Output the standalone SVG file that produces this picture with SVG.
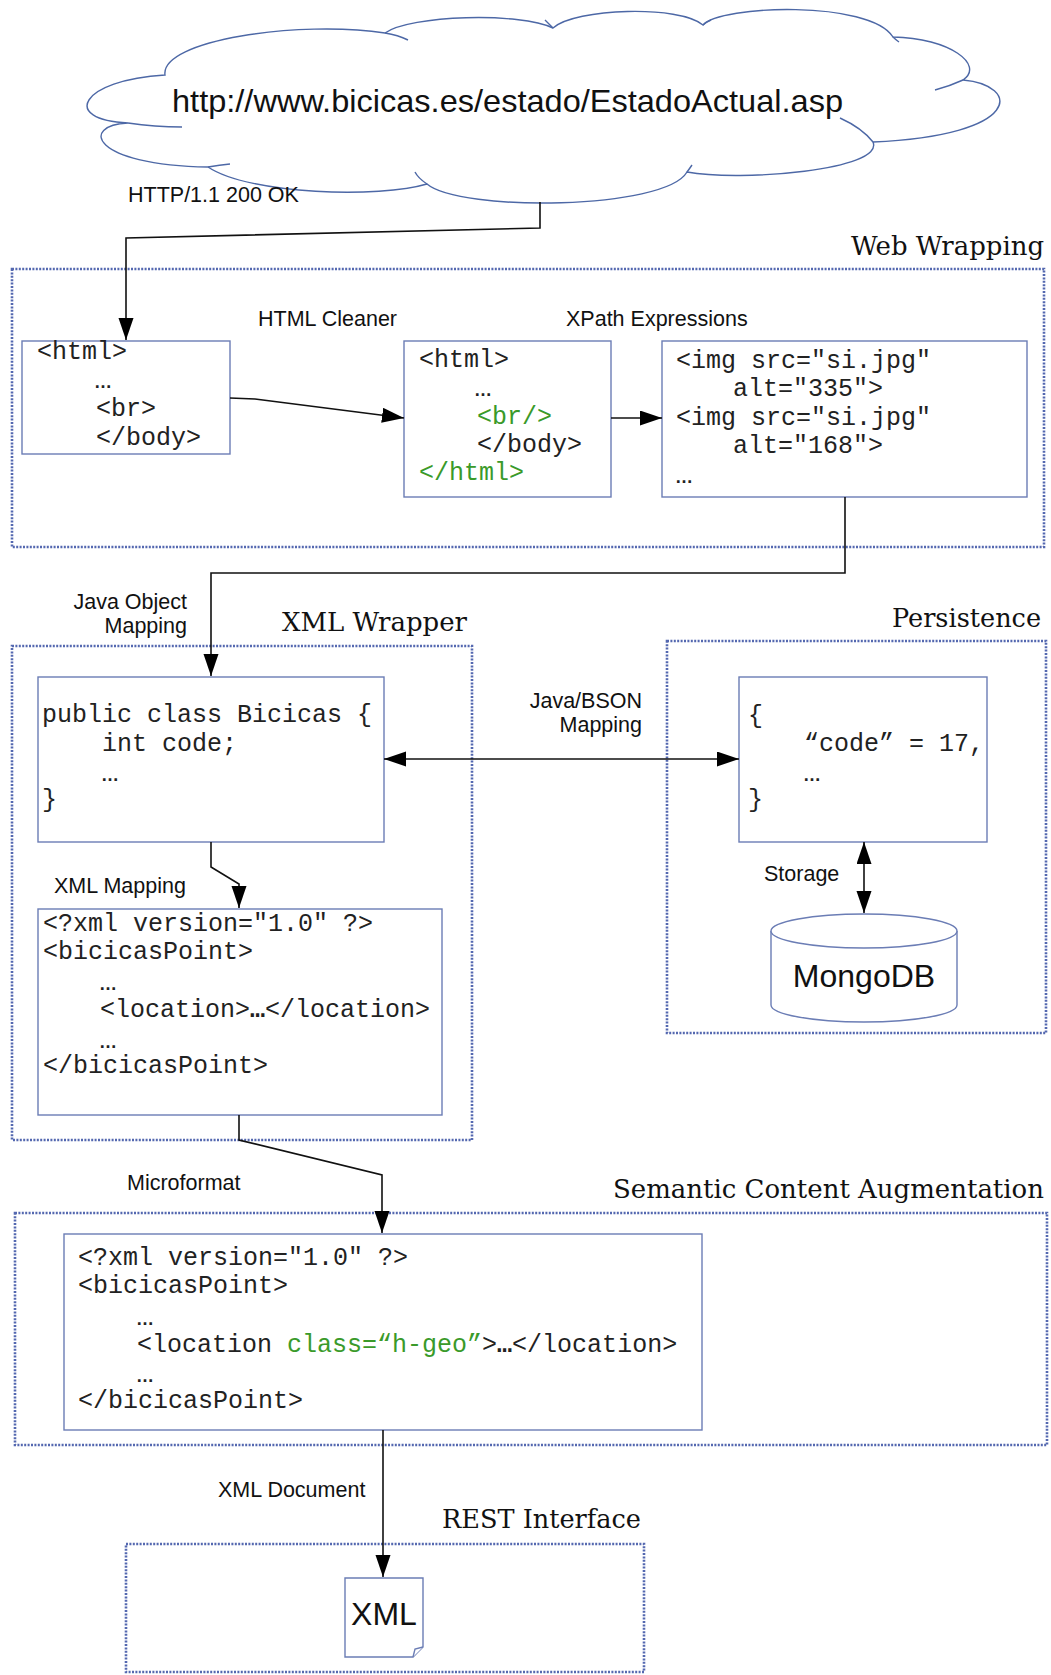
<svg xmlns="http://www.w3.org/2000/svg" width="1051" height="1675" viewBox="0 0 1051 1675">
<style>
.bg{fill:#ffffff}
.sec{fill:none;stroke:#5468b0;stroke-width:2.6;stroke-dasharray:2 1.4}
.box{fill:#ffffff;stroke:#6b7db5;stroke-width:1.4}
.cloud{fill:#ffffff;stroke:#4d68a6;stroke-width:1.4}
.tail{fill:none;stroke:#4d68a6;stroke-width:1.4}
.con{fill:none;stroke:#111111;stroke-width:1.6}
.code{font-family:"Liberation Mono","Courier New",monospace;font-size:25px;fill:#222222}
.dots{font-family:"Liberation Sans",Arial,sans-serif;font-size:18px;font-weight:bold;fill:#222222}
.ell{font-weight:bold}
.lbl{font-family:"Liberation Sans",Arial,sans-serif;font-size:21.5px;fill:#111111}
.big{font-family:"Liberation Sans",Arial,sans-serif;font-size:32px;fill:#111111}
.title{font-family:"DejaVu Serif","Liberation Serif",serif;font-size:26px;fill:#111111;text-anchor:end}
.g{fill:#3a9a2a}
</style>
<defs>
<marker id="ah" markerUnits="userSpaceOnUse" markerWidth="23" markerHeight="16" refX="22" refY="7.5" orient="auto-start-reverse" viewBox="0 0 23 16">
<path d="M0,0 L22,7.5 L0,15 Z" fill="#000000"/>
</marker>
</defs>
<rect class="bg" x="0" y="0" width="1051" height="1675"/>

<g id="cloud">
<path class="cloud" d="M165,75 C160,40 300,20 385,33 C410,15 520,12 553,28 C575,8 680,5 703,25 C720,5 870,0 893,37 C950,38 985,65 963,80 C1020,85 1025,135 873,142 C885,170 740,182 687,172 C665,210 460,212 427,184 C380,198 250,195 208,167 C90,165 80,125 128,123 C60,120 80,80 165,75 Z"/>
<path class="tail" d="M385,33 Q398,35 408,40 M128,123 Q155,127 182,127 M208,167 Q220,165 230,164 M427,184 Q418,178 415,172 M687,172 Q690,168 692,165 M873,142 Q862,128 840,118 M963,80 Q950,86 935,90 M893,37 Q896,40 899,42 M703,25 Q706,22 711,20 M553,28 Q549,24 545,20"/>
<text class="big" x="172" y="112" font-size="33" textLength="671" lengthAdjust="spacingAndGlyphs">http://www.bicicas.es/estado/EstadoActual.asp</text>
</g>

<g id="web-wrapping">
<rect class="sec" x="12" y="269" width="1032" height="278"/>
<text class="title" x="1044" y="255" textLength="193" lengthAdjust="spacingAndGlyphs">Web Wrapping</text>
</g>

<g id="html-raw">
<rect class="box" x="22" y="341" width="208" height="113"/>
<text class="code" x="37" y="359">&lt;html&gt;</text>
<text class="dots" x="94" y="388">…</text>
<text class="code" x="96" y="416">&lt;br&gt;</text>
<text class="code" x="96" y="445">&lt;/body&gt;</text>
</g>

<g id="html-clean">
<rect class="box" x="404" y="341" width="207" height="156"/>
<text class="code" x="419" y="367">&lt;html&gt;</text>
<text class="dots" x="474" y="396">…</text>
<text class="code g" x="477" y="424">&lt;br/&gt;</text>
<text class="code" x="477" y="452">&lt;/body&gt;</text>
<text class="code g" x="419" y="480">&lt;/html&gt;</text>
</g>

<g id="xpath-result">
<rect class="box" x="662" y="341" width="365" height="156"/>
<text class="code" x="676" y="368">&lt;img src="si.jpg"</text>
<text class="code" x="733" y="396">alt="335"&gt;</text>
<text class="code" x="676" y="425">&lt;img src="si.jpg"</text>
<text class="code" x="733" y="453">alt="168"&gt;</text>
<text class="dots" x="675" y="483">…</text>
</g>

<g id="xml-wrapper">
<rect class="sec" x="12" y="646" width="460" height="494"/>
<text class="title" x="467" y="631" textLength="185" lengthAdjust="spacingAndGlyphs">XML Wrapper</text>
</g>

<g id="java-object">
<rect class="box" x="38" y="677" width="346" height="165"/>
<text class="code" x="42" y="722">public class Bicicas {</text>
<text class="code" x="102" y="751">int code;</text>
<text class="dots" x="101" y="781">…</text>
<text class="code" x="42" y="807">}</text>
</g>

<g id="xml-mapped">
<rect class="box" x="38" y="909" width="404" height="206"/>
<text class="code" x="43" y="931">&lt;?xml version="1.0" ?&gt;</text>
<text class="code" x="43" y="959">&lt;bicicasPoint&gt;</text>
<text class="dots" x="99" y="990">…</text>
<text class="code" x="100" y="1017">&lt;location&gt;<tspan class="ell">…</tspan>&lt;/location&gt;</text>
<text class="dots" x="99" y="1048">…</text>
<text class="code" x="43" y="1073">&lt;/bicicasPoint&gt;</text>
</g>

<g id="persistence">
<rect class="sec" x="667" y="641" width="379" height="392"/>
<text class="title" x="1041" y="627" textLength="149" lengthAdjust="spacingAndGlyphs">Persistence</text>
</g>

<g id="bson-doc">
<rect class="box" x="739" y="677" width="248" height="165"/>
<text class="code" x="748" y="723">{</text>
<text class="code" x="804" y="751">“code” = 17,</text>
<text class="dots" x="803" y="781">…</text>
<text class="code" x="748" y="807">}</text>
</g>

<g id="mongodb">
<path class="box" d="M771,931 L771,1005 A93,17 0 0 0 957,1005 L957,931 A93,17 0 0 0 771,931 Z"/>
<path class="box" d="M771,931 A93,17 0 0 0 957,931" fill="none"/>
<text class="big" x="864" y="987" text-anchor="middle">MongoDB</text>
</g>

<g id="semantic">
<rect class="sec" x="15" y="1213" width="1032" height="232"/>
<text class="title" x="1044" y="1198" textLength="431" lengthAdjust="spacingAndGlyphs">Semantic Content Augmentation</text>
</g>

<g id="xml-microformat">
<rect class="box" x="64" y="1234" width="638" height="196"/>
<text class="code" x="78" y="1265">&lt;?xml version="1.0" ?&gt;</text>
<text class="code" x="78" y="1293">&lt;bicicasPoint&gt;</text>
<text class="dots" x="136" y="1325">…</text>
<text class="code" x="137" y="1352">&lt;location <tspan class="g">class=“h-geo”</tspan>&gt;<tspan class="ell">…</tspan>&lt;/location&gt;</text>
<text class="dots" x="136" y="1382">…</text>
<text class="code" x="78" y="1408">&lt;/bicicasPoint&gt;</text>
</g>

<g id="rest">
<rect class="sec" x="126" y="1544" width="518" height="128"/>
<text class="title" x="641" y="1528" textLength="199" lengthAdjust="spacingAndGlyphs">REST Interface</text>
</g>

<g id="xml-document">
<path class="box" d="M345,1578 H423 V1647 L413,1657 H345 Z"/>
<path class="box" d="M413,1657 L415,1649 L423,1647" fill="#dfe5f2"/>
<text class="big" x="384" y="1625" text-anchor="middle">XML</text>
</g>

<g id="connectors">
<path class="con" d="M540,202 L540,228 L126,238 L126,340" marker-end="url(#ah)"/>
<path class="con" d="M230,398 L255,399 L404,418" marker-end="url(#ah)"/>
<path class="con" d="M611,418 L662,418" marker-end="url(#ah)"/>
<path class="con" d="M845,497 L845,573 L211,573 L211,676" marker-end="url(#ah)"/>
<path class="con" d="M384,759 L739,759" marker-start="url(#ah)" marker-end="url(#ah)"/>
<path class="con" d="M864,842 L864,913" marker-start="url(#ah)" marker-end="url(#ah)"/>
<path class="con" d="M211,842 L211,867 L239,884 L239,908" marker-end="url(#ah)"/>
<path class="con" d="M239,1115 L239,1140 L382,1175 L382,1233" marker-end="url(#ah)"/>
<path class="con" d="M383,1430 L383,1577" marker-end="url(#ah)"/>
<text class="lbl" x="128" y="202">HTTP/1.1 200 OK</text>
<text class="lbl" x="258" y="326">HTML Cleaner</text>
<text class="lbl" x="566" y="326">XPath Expressions</text>
<text class="lbl" x="187" y="609" text-anchor="end">Java Object</text>
<text class="lbl" x="187" y="633" text-anchor="end">Mapping</text>
<text class="lbl" x="642" y="708" text-anchor="end">Java/BSON</text>
<text class="lbl" x="642" y="732" text-anchor="end">Mapping</text>
<text class="lbl" x="764" y="881">Storage</text>
<text class="lbl" x="54" y="893">XML Mapping</text>
<text class="lbl" x="127" y="1190">Microformat</text>
<text class="lbl" x="218" y="1497">XML Document</text>
</g>
</svg>
